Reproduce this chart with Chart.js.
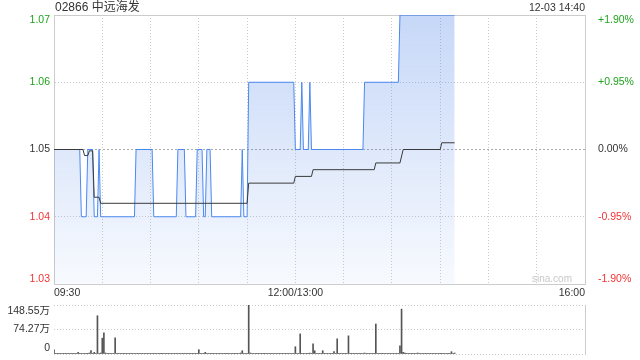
<!DOCTYPE html>
<html>
<head>
<meta charset="utf-8">
<script src="https://cdn.jsdelivr.net/npm/chart.js@4.4.1/dist/chart.umd.min.js"></script>
<style>
body { margin: 0; background: #fff; width: 640px; height: 360px; overflow: hidden; position: relative;
       font-family: 'Liberation Sans', 'Noto Sans CJK SC', sans-serif; }
canvas { position: absolute; left: 0; }
#priceChart { top: 0; }
#volChart { top: 300px; }
.txt { position: absolute; z-index: 2; white-space: nowrap; }
#title { left: 55px; top: 0; font-size: 12px; line-height: 15px; color: #333; }
#stamp { right: 55px; top: 0; font-size: 10.5px; line-height: 14px; color: #333; }
#mark { left: 532px; top: 272px; font-size: 10px; line-height: 14px; color: #c8c8c8; }
</style>
</head>
<body>
<div id="title" class="txt"></div>
<div id="stamp" class="txt"></div>
<div id="mark" class="txt">sina.com</div>
<canvas id="priceChart" width="640" height="300"></canvas>
<canvas id="volChart" width="640" height="60"></canvas>
<script>
var stockName = '02866 中远海发';
var stampText = '12-03 14:40';
var prevClose = 1.05;

// x axis is minutes of trading since 09:30 (lunch break removed)
var xTickMinutes = [0, 150, 330];
var xTickLabels = ['09:30', '12:00/13:00', '16:00'];
var priceTicks = [1.03, 1.04, 1.05, 1.06, 1.07];

// price line, at the minutes where it turns
var priceMin = [0,    16,   17,   20,   21,   24,   25,   27,   28,   29,   50,   51,   61,   62,   76,
                77,   81,   82,   88,   89,   92,   93,   94,   95,   97,   98,   116,  117,  118,  120,
                121,  149,  150,  153,  154,  155,  158,  159,  160,  192,  193,  214,  215,  249];
var priceVal = [1.05, 1.05, 1.04, 1.04, 1.05, 1.05, 1.04, 1.04, 1.05, 1.04, 1.04, 1.05, 1.05, 1.04, 1.04,
                1.05, 1.05, 1.04, 1.04, 1.05, 1.05, 1.04, 1.04, 1.05, 1.05, 1.04, 1.04, 1.05, 1.04, 1.04,
                1.06, 1.06, 1.05, 1.05, 1.06, 1.05, 1.05, 1.06, 1.05, 1.05, 1.06, 1.06, 1.07, 1.07];

// average price line
var avgMin = [0,    18,   19,     21,     22,     24,     25,     28,     29,    120,   121,   149,
              150,  160,  161,    199,    200,    215,    217,    240,    241,   249];
var avgVal = [1.05, 1.05, 1.0491, 1.0491, 1.0498, 1.0498, 1.0429, 1.0429, 1.042, 1.042, 1.045, 1.045,
              1.046, 1.046, 1.047, 1.047,  1.048,  1.048,  1.05,   1.05,   1.051, 1.051];

// volume per minute, in 万
var volTicks = [0, 74.27, 148.55];
var volTickLabels = ['0', '74.27万', '148.55万'];
var volume = [
    13, 2, 1, 2, 1, 1, 2, 1, 1, 2,
    1, 2, 1, 1, 2, 5, 1, 2, 1, 1,
    2, 1, 3, 10, 2, 5, 2, 116, 2, 3,
    48, 64, 3, 2, 1, 2, 2, 1, 49, 2,
    1, 2, 1, 1, 2, 1, 2, 1, 1, 2,
    1, 1, 2, 1, 2, 1, 1, 2, 1, 1,
    2, 1, 1, 2, 1, 1, 2, 1, 2, 1,
    1, 2, 1, 1, 2, 1, 2, 1, 1, 2,
    1, 2, 1, 1, 2, 1, 1, 2, 1, 2,
    13, 1, 2, 2, 5, 2, 1, 2, 1, 1,
    2, 1, 1, 2, 1, 2, 1, 1, 2, 1,
    1, 2, 1, 1, 2, 1, 3, 10, 2, 1,
    2, 148.55, 3, 2, 1, 2, 1, 1, 2, 1,
    1, 2, 1, 2, 1, 1, 2, 1, 1, 2,
    1, 2, 1, 1, 2, 1, 2, 1, 1, 2,
    22, 2, 1, 61, 2, 1, 2, 1, 2, 3,
    2, 31, 10, 2, 1, 2, 1, 10, 2, 1,
    2, 1, 2, 1, 7, 2, 46, 2, 1, 2,
    1, 2, 1, 55, 2, 1, 2, 1, 2, 1,
    2, 1, 2, 3, 1, 2, 1, 2, 1, 2,
    91, 2, 1, 2, 1, 2, 1, 2, 1, 2,
    1, 2, 1, 2, 2, 25, 136, 5, 3, 2,
    1, 2, 1, 2, 1, 2, 3, 1, 2, 1,
    2, 1, 2, 1, 2, 1, 2, 1, 2, 1,
    2, 1, 2, 1, 2, 1, 2, 7, 2, 3
];

document.getElementById('title').textContent = stockName;
document.getElementById('stamp').textContent = stampText;

Chart.defaults.font.family = "'Liberation Sans', 'Noto Sans CJK SC', sans-serif";
Chart.defaults.color = '#333';

var gridGray = '#cccccc';

function toPoints(xs, ys) {
    return xs.map((x, i) => ({ x: x, y: ys[i] }));
}

// first label sits above its line end, last one below (kept inside the box)
function edgeLabel(text, i, n) {
    if (i === 0) return [text, ''];
    if (i === n - 1) return ['', text];
    return text;
}

// fixed axis width, and no extra room kept for the edge labels
function fitSide(w) {
    return s => {
        s.width = w;
        s.paddingTop = 0;
        s.paddingBottom = 0;
    };
}

function priceColor(v) {
    if (v > prevClose + 1e-9) return '#1fa31f';
    if (v < prevClose - 1e-9) return '#f33333';
    return '#333';
}

function pctLabel(v) {
    let p = (v - prevClose) / prevClose * 100;
    if (Math.abs(p) < 0.005) return '0.00%';
    return (p > 0 ? '+' : '') + p.toFixed(2) + '%';
}

function areaFill(c) {
    let area = c.chart.chartArea;
    if (!area) return 'rgba(60, 120, 230, 0.15)';
    let g = c.chart.ctx.createLinearGradient(0, area.top, 0, area.bottom);
    g.addColorStop(0, 'rgba(60, 120, 230, 0.29)');
    g.addColorStop(1, 'rgba(60, 120, 230, 0.04)');
    return g;
}

var priceChart = new Chart(document.getElementById('priceChart').getContext('2d'), {
    type: 'line',
    data: {
        datasets: [{
            label: 'avg',
            data: toPoints(avgMin, avgVal),
            borderColor: '#3a3a3a',
            borderWidth: 1,
            pointRadius: 0,
            fill: false,
            tension: 0
        }, {
            label: 'price',
            data: toPoints(priceMin, priceVal),
            borderColor: '#4a88f0',
            borderWidth: 1,
            pointRadius: 0,
            fill: 'start',
            backgroundColor: areaFill,
            tension: 0
        }]
    },
    options: {
        responsive: false,
        animation: false,
        events: [],
        layout: { padding: { top: 15 } },
        plugins: { legend: { display: false }, tooltip: { enabled: false } },
        scales: {
            x: {
                type: 'linear',
                min: 0,
                max: 330,
                afterFit: s => { s.height = 16; },
                ticks: {
                    stepSize: 30,
                    autoSkip: false,
                    maxRotation: 0,
                    minRotation: 0,
                    align: 'inner',
                    padding: 3,
                    font: { size: 10.5 },
                    callback: v => {
                        let i = xTickMinutes.indexOf(v);
                        return i >= 0 ? xTickLabels[i] : '';
                    }
                },
                grid: { color: gridGray, drawTicks: false },
                border: { color: gridGray, dash: [1, 2] }
            },
            y: {
                position: 'left',
                min: 1.03,
                max: 1.07,
                afterBuildTicks: s => { s.ticks = priceTicks.map(v => ({ value: v })); },
                afterFit: fitSide(54),
                ticks: {
                    autoSkip: false,
                    padding: 4,
                    font: { size: 10.5, lineHeight: 1 },
                    color: c => priceColor(c.tick.value),
                    callback: (v, i, t) => edgeLabel(v.toFixed(2), i, t.length)
                },
                grid: {
                    drawTicks: false,
                    color: c => (c.tick && c.tick.value === prevClose) ? '#aaaaaa' : gridGray
                },
                border: {
                    color: gridGray,
                    dash: c => {
                        if (!c.tick) return [1, 2];
                        if (c.tick.value === 1.07) return [];
                        if (c.tick.value === prevClose) return [2, 2];
                        return [1, 2];
                    }
                }
            },
            y2: {
                position: 'right',
                min: 1.03,
                max: 1.07,
                afterBuildTicks: s => { s.ticks = priceTicks.map(v => ({ value: v })); },
                afterFit: fitSide(55),
                ticks: {
                    autoSkip: false,
                    padding: 5,
                    font: { size: 10.5, lineHeight: 1 },
                    color: c => priceColor(c.tick.value),
                    callback: (v, i, t) => edgeLabel(pctLabel(v), i, t.length)
                },
                grid: { display: false },
                border: { color: gridGray }
            }
        }
    }
});

var volChart = new Chart(document.getElementById('volChart').getContext('2d'), {
    type: 'bar',
    data: {
        datasets: [{
            label: 'volume',
            data: volume.map((v, m) => ({ x: m, y: v })),
            backgroundColor: '#555555',
            borderWidth: 0,
            barThickness: 1
        }]
    },
    options: {
        responsive: false,
        animation: false,
        events: [],
        layout: { padding: { top: 5, bottom: 6 } },
        plugins: { legend: { display: false }, tooltip: { enabled: false } },
        scales: {
            x: { type: 'linear', min: 0, max: 330, offset: false, display: false },
            y: {
                position: 'left',
                min: 0,
                max: 148.55,
                afterBuildTicks: s => { s.ticks = volTicks.map(v => ({ value: v })); },
                afterFit: fitSide(54),
                ticks: {
                    autoSkip: false,
                    padding: 4,
                    font: { size: 10.5, lineHeight: 1.1 },
                    callback: (v, i, t) => edgeLabel(volTickLabels[i], i, t.length)
                },
                grid: { color: gridGray, drawTicks: false },
                border: { display: false, dash: [1, 2] }
            },
            yr: {
                position: 'right',
                min: 0,
                max: 148.55,
                afterFit: fitSide(55),
                ticks: { display: false },
                grid: { display: false },
                border: { color: gridGray }
            }
        }
    }
});
</script>
</body>
</html>
